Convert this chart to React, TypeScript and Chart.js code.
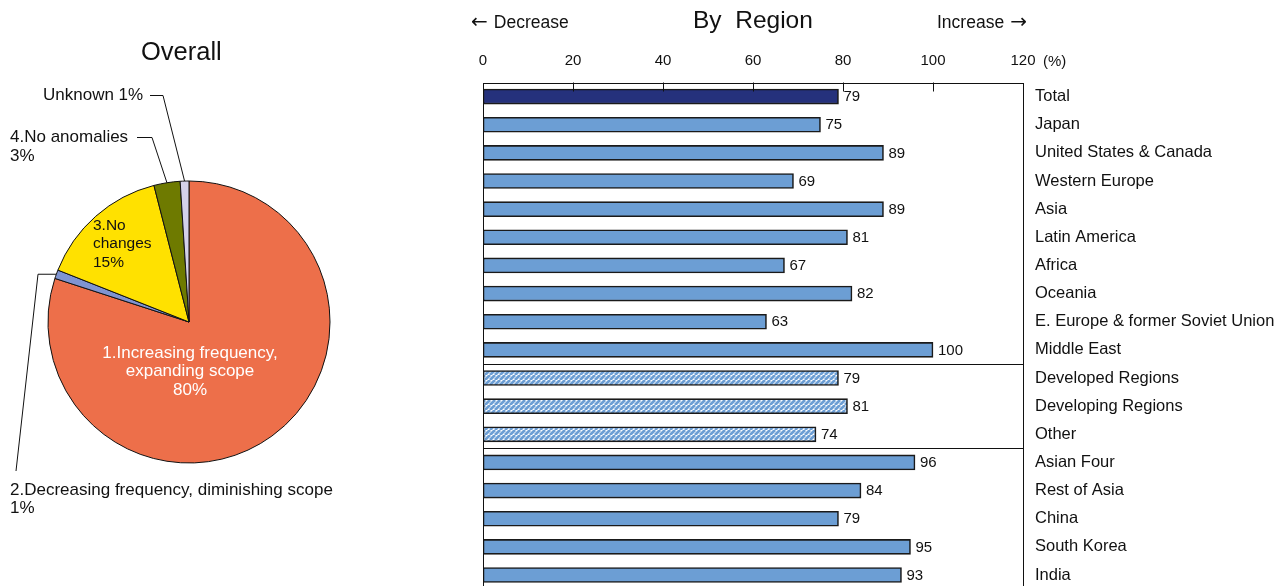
import React, { useEffect, useRef } from "react";
import { Chart, registerables } from "chart.js";

Chart.register(...registerables);

const FONT = "'Liberation Sans', Arial, Helvetica, sans-serif";
const ARROW_FONT = "'DejaVu Sans', sans-serif";

// Overall breakdown (pie)
const pieLabels = [
  "1.Increasing frequency, expanding scope",
  "2.Decreasing frequency, diminishing scope",
  "3.No changes",
  "4.No anomalies",
  "Unknown",
];
const pieValues = [80, 1, 15, 3, 1];
const pieColors = ["#ed6f4a", "#7f94d1", "#ffe100", "#6e7a00", "#d4d1ea"];

// Share reporting an increase, by region (%)
const regions = [
  "Total",
  "Japan",
  "United States & Canada",
  "Western Europe",
  "Asia",
  "Latin America",
  "Africa",
  "Oceania",
  "E. Europe & former Soviet Union",
  "Middle East",
  "Developed Regions",
  "Developing Regions",
  "Other",
  "Asian Four",
  "Rest of Asia",
  "China",
  "South Korea",
  "India",
];
const regionValues = [79, 75, 89, 69, 89, 81, 67, 82, 63, 100, 79, 81, 74, 96, 84, 79, 95, 93];
const xTicks = [0, 20, 40, 60, 80, 100, 120];

const hatchedRegions = ["Developed Regions", "Developing Regions", "Other"];
const groupEnds = ["Middle East", "Other"];

function makeHatch(): CanvasPattern | string {
  const c = document.createElement("canvas");
  c.width = 5;
  c.height = 5;
  const g = c.getContext("2d");
  if (!g) return "#6c9ed4";
  g.fillStyle = "#ffffff";
  g.fillRect(0, 0, 5, 5);
  g.strokeStyle = "#6c9ed4";
  g.lineWidth = 2.8;
  g.beginPath();
  for (const o of [-5, 0, 5]) {
    g.moveTo(o, 5);
    g.lineTo(o + 5, 0);
  }
  g.stroke();
  return g.createPattern(c, "repeat") || "#6c9ed4";
}

const piePlugin = {
  id: "pieNotes",
  afterDraw(chart: any) {
    const ctx = chart.ctx;
    const arcs = chart.getDatasetMeta(0).data;
    const edge = (i: number) => {
      const a = arcs[i];
      const mid = (a.startAngle + a.endAngle) / 2;
      return { x: a.x + Math.cos(mid) * a.outerRadius, y: a.y + Math.sin(mid) * a.outerRadius };
    };
    ctx.save();
    ctx.textBaseline = "middle";
    // large slice label
    ctx.fillStyle = "#ffffff";
    ctx.font = `17px ${FONT}`;
    ctx.textAlign = "center";
    ctx.fillText("1.Increasing frequency,", 190, 353);
    ctx.fillText("expanding scope", 190, 371);
    ctx.fillText(`${pieValues[0]}%`, 190, 390);
    // yellow slice label
    ctx.fillStyle = "#111111";
    ctx.font = `15.5px ${FONT}`;
    ctx.textAlign = "left";
    ctx.fillText("3.No", 93, 226);
    ctx.fillText("changes", 93, 244);
    ctx.fillText(`${pieValues[2]}%`, 93, 263);
    // outside labels
    ctx.font = `17px ${FONT}`;
    ctx.fillText(`Unknown ${pieValues[4]}%`, 43, 95);
    ctx.fillText("4.No anomalies", 10, 137);
    ctx.fillText(`${pieValues[3]}%`, 10, 156);
    ctx.fillText("2.Decreasing frequency, diminishing scope", 10, 490);
    ctx.fillText(`${pieValues[1]}%`, 10, 508);
    // leader lines
    ctx.strokeStyle = "#111111";
    ctx.lineWidth = 1;
    const lead = (pts: number[][]) => {
      ctx.beginPath();
      ctx.moveTo(pts[0][0], pts[0][1]);
      for (let k = 1; k < pts.length; k++) ctx.lineTo(pts[k][0], pts[k][1]);
      ctx.stroke();
    };
    const u = edge(4);
    lead([[150, 95.5], [163, 95.5], [u.x, u.y]]);
    const n = edge(3);
    lead([[137, 137.5], [152, 137.5], [n.x, n.y]]);
    const d = edge(1);
    lead([[d.x, d.y], [38, d.y], [16, 471]]);
    ctx.restore();
  },
};

const barPlugin = {
  id: "barFrame",
  afterDraw(chart: any) {
    const ctx = chart.ctx;
    const { left, right, top, bottom } = chart.chartArea;
    const xs = chart.scales.x;
    const ys = chart.scales.y;
    ctx.save();
    ctx.strokeStyle = "#111111";
    ctx.lineWidth = 1;
    ctx.strokeRect(Math.round(left) + 0.5, Math.round(top) + 0.5, Math.round(right - left), Math.round(bottom - top));
    // short inward tick marks along the top edge
    ctx.beginPath();
    for (const v of xTicks.slice(1, -1)) {
      const px = Math.round(xs.getPixelForValue(v)) + 0.5;
      ctx.moveTo(px, top);
      ctx.lineTo(px, top + 9);
    }
    ctx.stroke();
    // group separators
    ctx.beginPath();
    for (const name of groupEnds) {
      const i = regions.indexOf(name);
      const yy = Math.round((ys.getPixelForValue(i) + ys.getPixelForValue(i + 1)) / 2) + 0.5;
      ctx.moveTo(left, yy);
      ctx.lineTo(right, yy);
    }
    ctx.stroke();
    // value labels
    ctx.fillStyle = "#111111";
    ctx.font = `15px ${FONT}`;
    ctx.textAlign = "left";
    ctx.textBaseline = "middle";
    const bars = chart.getDatasetMeta(0).data;
    bars.forEach((b: any, i: number) => {
      ctx.fillText(String(regionValues[i]), b.x + 5, b.y + 0.5);
    });
    ctx.restore();
  },
};

function PieChart() {
  const ref = useRef<HTMLCanvasElement>(null);
  useEffect(() => {
    if (!ref.current) return;
    const chart = new Chart(ref.current, {
      type: "pie",
      data: {
        labels: pieLabels,
        datasets: [
          {
            data: pieValues,
            backgroundColor: pieColors,
            borderColor: "#111111",
            borderWidth: 1,
          },
        ],
      },
      options: {
        animation: false,
        responsive: false,
        events: [],
        radius: 141,
        layout: { padding: { left: 39, right: 101, top: 172, bottom: 114 } },
        plugins: { legend: { display: false }, tooltip: { enabled: false } },
      } as any,
      plugins: [piePlugin],
    });
    return () => chart.destroy();
  }, []);
  return <canvas ref={ref} width={440} height={586} style={{ position: "absolute", left: 0, top: 0 }} />;
}

function BarChart() {
  const ref = useRef<HTMLCanvasElement>(null);
  useEffect(() => {
    if (!ref.current) return;
    const hatch = makeHatch();
    const colors = regions.map((r, i) =>
      i === 0 ? "#25317c" : hatchedRegions.includes(r) ? hatch : "#6c9ed4"
    );
    const chart = new Chart(ref.current, {
      type: "bar",
      data: {
        labels: regions,
        datasets: [
          {
            data: regionValues,
            backgroundColor: colors as any,
            borderColor: "#1a1a1a",
            borderWidth: 1.6,
            borderSkipped: false,
            barThickness: 15,
          },
        ],
      },
      options: {
        animation: false,
        responsive: false,
        events: [],
        indexAxis: "y",
        layout: { padding: { left: 43, right: 0, top: 0, bottom: 12 } },
        scales: {
          x: {
            position: "top",
            min: 0,
            max: 120,
            afterBuildTicks: (s: any) => {
              s.ticks = xTicks.map((v) => ({ value: v }));
            },
            afterFit: (s: any) => {
              s.height = 82.5;
            },
            grid: { display: false, drawTicks: false },
            border: { display: false },
            ticks: {
              padding: 13,
              color: "#111111",
              font: { family: FONT, size: 15 },
              maxRotation: 0,
            },
          },
          y: {
            position: "right",
            afterFit: (s: any) => {
              s.width = 265;
            },
            grid: { display: false, drawTicks: false },
            border: { display: false },
            ticks: {
              padding: 12,
              color: "#111111",
              font: { family: FONT, size: 16.5 },
              autoSkip: false,
            },
          },
        },
        plugins: { legend: { display: false }, tooltip: { enabled: false } },
      } as any,
      plugins: [barPlugin],
    });
    return () => chart.destroy();
  }, []);
  return <canvas ref={ref} width={848} height={611} style={{ position: "absolute", left: 440, top: 0 }} />;
}

const textStyle = (x: number, y: number, size: number, extra: React.CSSProperties = {}): React.CSSProperties => ({
  position: "absolute",
  left: x,
  top: y - size / 2 - 1,
  fontSize: size,
  lineHeight: `${size + 2}px`,
  fontFamily: FONT,
  color: "#111111",
  whiteSpace: "pre",
  ...extra,
});

const arrowStyle: React.CSSProperties = { fontFamily: ARROW_FONT, fontSize: 20 };

export default function App() {
  return (
    <div
      style={{
        position: "fixed",
        left: 0,
        top: 0,
        width: 1288,
        height: 586,
        overflow: "hidden",
        background: "#ffffff",
      }}
    >
      <PieChart />
      <BarChart />
      <div style={textStyle(141, 52, 25.5)}>Overall</div>
      <div style={textStyle(693, 20, 24.5)}>{"By  Region"}</div>
      <div style={textStyle(471, 22, 17.5)}>
        <span style={arrowStyle}>←</span>
        <span style={{ marginLeft: 6 }}>Decrease</span>
      </div>
      <div style={textStyle(937, 22, 17.5)}>
        <span style={{ marginRight: 6 }}>Increase</span>
        <span style={arrowStyle}>→</span>
      </div>
      <div style={textStyle(1043, 60, 15)}>(%)</div>
    </div>
  );
}
